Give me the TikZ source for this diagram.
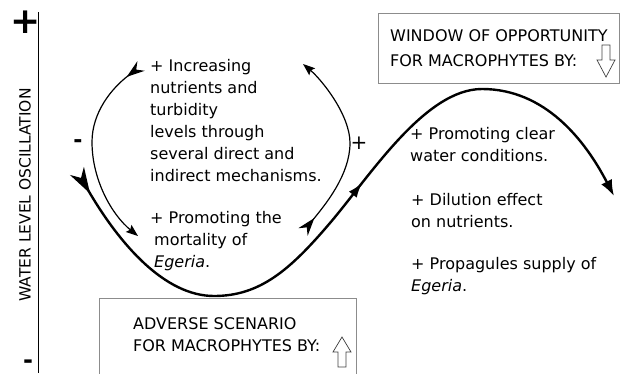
\documentclass[tikz,border=0pt]{standalone}
\usepackage{fontspec}
\setmainfont{DejaVu Sans}
\usetikzlibrary{arrows.meta,decorations.markings}

\tikzset{
    wave/.style={line width=2.4pt},
    loopline/.style={line width=1.2pt},
    bigfletch/.tip={Stealth[reversed,length=26pt,width=16pt,inset=8pt]},
    smallfletch/.tip={Stealth[reversed,length=18pt,width=12pt,inset=6pt]},
    label text/.style={anchor=base west, align=left, inner sep=0pt,
        font=\fontsize{16}{22}\selectfont},
    box/.style={draw=black!45, line width=0.8pt},
    hollow/.style={draw=black!75, line width=0.7pt, line join=miter}
}

\begin{document}
\begin{tikzpicture}[x=1pt,y=-1pt]
    \useasboundingbox (0,0) rectangle (622,373);
    \begin{scope} % Water level axis
        \draw[line width=0.8pt] (38,12) -- (38,373);
        \node[font=\fontsize{36}{36}\bfseries\selectfont] (high) at (25.5,22) {+};
        \node[anchor=base, inner sep=0pt, font=\fontsize{24}{24}\bfseries\selectfont]
            (low) at (28,368) {-};
        \node[rotate=90, font=\fontsize{15.5}{18}\selectfont] (axislabel)
            at (25,195) {WATER LEVEL OSCILLATION};
    \end{scope}
    \begin{scope} % Boxes
        \draw[box] (378,13) rectangle (619,83);
        % last line sits on the given point
        \node[label text, font=\fontsize{16}{25}\selectfont] (window)
            at (390,66) {WINDOW OF OPPORTUNITY\\FOR MACROPHYTES BY:};
        \draw[hollow] (602,45) -- (610,45) -- (610,60) -- (615,60) -- 
            (606,77) -- (597,60) -- (602,60) -- cycle;
        \draw[box] (99,374) -- (99,298) -- (356,298) -- (356,374);
        \node[label text] (adverse)
            at (133,351) {ADVERSE SCENARIO\\FOR MACROPHYTES BY:};
        \draw[hollow] (338,367) -- (346,367) -- (346,352) -- (351,352) -- 
            (342,337) -- (333,352) -- (338,352) -- cycle;
    \end{scope}
    \begin{scope} % Water level curve
        \coordinate (wavestart) at (77,171);
        \coordinate (wavelow) at (214,296);
        \coordinate (wavehigh) at (482,89);
        \coordinate (waveend) at (614,196);
        \draw[wave, bigfletch-{Latex[length=16pt,width=12pt]},
            postaction={decorate}, decoration={markings,
            mark=at position 0.535 with {\arrow{Latex[length=15pt,width=10pt]}}}]
            (wavestart) .. controls (120,245) and (165,296) .. (wavelow)
            .. controls (260,296) and (290,270) .. (330,223)
            .. controls (370,176) and (425,89) .. (wavehigh)
            .. controls (545,89) and (585,140) .. (waveend);
    \end{scope}
    \begin{scope} % Feedback loops
        \coordinate (leftstart) at (141,66);
        \coordinate (leftend) at (138,236);
        \draw[loopline, smallfletch-{Stealth[length=12pt,width=9pt,inset=2pt]}]
            (leftstart) .. controls (112,88) and (92,112) .. (92,142)
            .. controls (92,180) and (112,215) .. (leftend);
        \node[anchor=base, inner sep=0pt, font=\fontsize{22}{22}\bfseries\selectfont]
            (negsign) at (78,147) {-};
        \coordinate (rightstart) at (303,232);
        \coordinate (rightend) at (303,64);
        \draw[loopline, smallfletch-{Stealth[length=12pt,width=9pt,inset=2pt]}]
            (rightstart) .. controls (325,205) and (350,175) .. (350,143)
            .. controls (350,115) and (322,80) .. (rightend);
        \node[font=\fontsize{20}{20}\selectfont] (possign) at (359,143) {+};
    \end{scope}
    \begin{scope} % Mechanisms
        \node[label text] (increasing) at (150,181) {+ Increasing\\nutrients and\\turbidity\\levels through\\several direct and\\indirect mechanisms.};
        \node[label text] (mortality) at (150,267) {+ Promoting the\\\hspace{4pt}mortality of\\\hspace{4pt}\textit{Egeria}.};
        \node[label text] (clearwater) at (410,161) {+ Promoting clear\\water conditions.};
        \node[label text] (dilution) at (411,227) {+ Dilution effect\\on nutrients.};
        \node[label text] (propagules) at (411,291) {+ Propagules supply of\\\textit{Egeria}.};
    \end{scope}
\end{tikzpicture}
\end{document}
